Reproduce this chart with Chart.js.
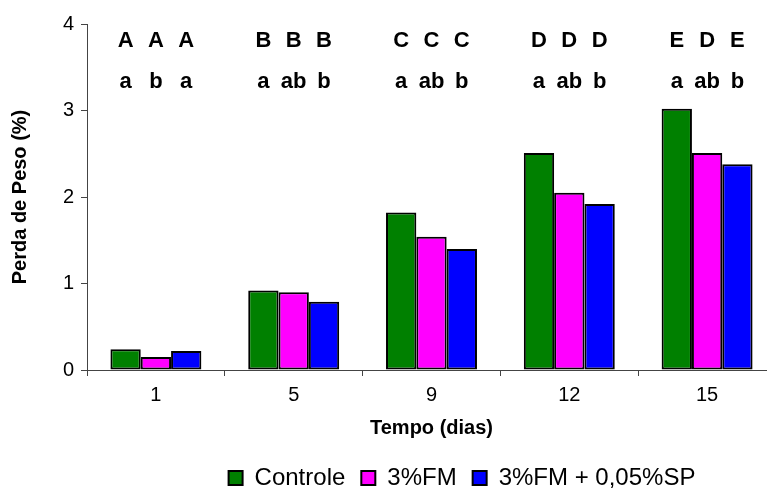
<!DOCTYPE html>
<html><head><meta charset="utf-8">
<script src="https://cdn.jsdelivr.net/npm/chart.js@4/dist/chart.umd.min.js"></script>
<style>
html,body{margin:0;padding:0;overflow:hidden;background:#fff;width:767px;height:493px}
#wrap{position:absolute;left:0;top:0;width:776px;height:493px}
</style>
</head><body><div id="wrap"><canvas id="c" width="776" height="493"></canvas></div>
<script>
const categories = ['1', '5', '9', '12', '15'];
const seriesNames = ['Controle', '3%FM', '3%FM + 0,05%SP'];
const controle = [0.24, 0.92, 1.82, 2.51, 3.02];
const fm3 = [0.15, 0.90, 1.54, 2.05, 2.51];
const fm3sp = [0.22, 0.79, 1.40, 1.92, 2.38];
const upperLetters = [
  ['A', 'B', 'C', 'D', 'E'],
  ['A', 'B', 'C', 'D', 'D'],
  ['A', 'B', 'C', 'D', 'E']
];
const lowerLetters = [
  ['a', 'a', 'a', 'a', 'a'],
  ['b', 'ab', 'ab', 'ab', 'ab'],
  ['a', 'b', 'b', 'b', 'b']
];
const yMin = 0, yMax = 4, yStep = 1;
const upperRowLevel = 3.80;
const lowerRowLevel = 3.33;

const FONT = '"Liberation Sans", Arial, sans-serif';

const letterPlugin = {
  id: 'letters',
  afterDatasetsDraw(chart) {
    const ctx = chart.ctx, ys = chart.scales.y;
    ctx.save();
    ctx.fillStyle = '#000';
    ctx.font = 'bold 22px ' + FONT;
    ctx.textAlign = 'center';
    ctx.textBaseline = 'middle';
    chart.data.datasets.forEach((ds, i) => {
      chart.getDatasetMeta(i).data.forEach((bar, j) => {
        ctx.fillText(upperLetters[i][j], bar.x, ys.getPixelForValue(upperRowLevel));
        ctx.fillText(lowerLetters[i][j], bar.x, ys.getPixelForValue(lowerRowLevel));
      });
    });
    ctx.restore();
  }
};

const legendShift = {
  id: 'legendShift',
  afterLayout(chart) {
    const l = chart.legend;
    const dx = 74, dy = 10;
    l.left += dx; l.right += dx; l.top += dy; l.bottom += dy;
  }
};

new Chart(document.getElementById('c'), {
  type: 'bar',
  data: {
    labels: categories,
    datasets: [
      { label: seriesNames[0], data: controle, backgroundColor: '#008000' },
      { label: seriesNames[1], data: fm3, backgroundColor: '#FF00FF' },
      { label: seriesNames[2], data: fm3sp, backgroundColor: '#0000FF' }
    ].map(d => Object.assign(d, { borderColor: '#000', borderWidth: 2, borderSkipped: false,
      categoryPercentage: 0.66, barPercentage: 1.0 }))
  },
  options: {
    responsive: false,
    devicePixelRatio: 1,
    animation: false,
    layout: { padding: { top: 24, left: 0, right: 0, bottom: 3 } },
    plugins: {
      tooltip: { enabled: false },
      legend: {
        position: 'bottom',
        labels: { font: { size: 24, family: FONT }, color: '#000', boxWidth: 14, boxHeight: 14, padding: 16 }
      }
    },
    scales: {
      x: {
        grid: { display: true, drawOnChartArea: false, drawTicks: true, tickLength: 6, color: '#444', offset: true },
        border: { display: true, color: '#444', width: 1 },
        ticks: { font: { size: 20, family: FONT }, color: '#000', padding: 7 },
        title: { display: true, text: 'Tempo (dias)', font: { size: 20, weight: 'bold', family: FONT }, color: '#000', padding: { top: 0, bottom: 0 } },
        afterFit(s) { s.height = 70; }
      },
      y: {
        min: yMin, max: yMax,
        grid: { display: true, drawOnChartArea: false, drawTicks: true, tickLength: 6, color: '#444' },
        border: { display: true, color: '#444', width: 1 },
        ticks: { stepSize: yStep, font: { size: 20, family: FONT }, color: '#000', padding: 7 },
        title: { display: true, text: 'Perda de Peso (%)', font: { size: 20, weight: 'bold', family: FONT }, color: '#000', padding: { top: 8, bottom: 0 } },
        afterFit(s) { s.width = 87; }
      }
    }
  },
  plugins: [letterPlugin, legendShift]
});
</script>
</body></html>
